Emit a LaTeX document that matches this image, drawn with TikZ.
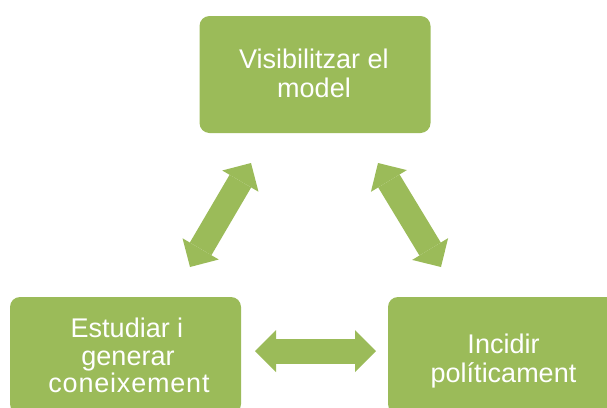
\documentclass[tikz,border=0pt]{standalone}
\usepackage{fontspec}
\setmainfont{Liberation Sans}
\usetikzlibrary{arrows.meta}
\definecolor{boxgreen}{RGB}{155,187,89}
\tikzset{
  box/.style={fill=boxgreen, draw=none, rounded corners=10pt, minimum width=231pt, minimum height=117pt, inner sep=0pt},
  lbl/.style={text=white, anchor=base, inner sep=0pt, font=\fontsize{27}{29}\selectfont},
  blockarrow/.style={draw=boxgreen, line width=25pt,
    {Triangle[width=42pt,length=21pt,line width=0pt]}-{Triangle[width=42pt,length=21pt,line width=0pt]}}
}
\begin{document}
\begin{tikzpicture}[x=1pt,y=-1pt]
\useasboundingbox (0,0) rectangle (607,407);
\clip (0,0) rectangle (607,407);
\node[box] (top) at (315,74.5) {};
\node[box] (left) at (125.5,355.5) {};
\node[box] (right) at (503.5,355.5) {};
\node[lbl] (top1) at (314,68) {Visibilitzar el};
\node[lbl] (top2) at (314,97) {model};
\node[lbl] (left1) at (127,337) {Estudiar i};
\node[lbl] (left2) at (128,365) {generar};
\node[lbl] (left3) at (129,392.5) {\addfontfeature{LetterSpace=3}coneixement};
\node[lbl] (right1) at (503.5,353) {Incidir};
\node[lbl] (right2) at (503.5,382) {políticament};
\coordinate (a1s) at (190,267);
\coordinate (a1e) at (251,163);
\coordinate (a2s) at (378,163);
\coordinate (a2e) at (441,267);
\coordinate (a3s) at (255,351);
\coordinate (a3e) at (376,351);
\draw[blockarrow] (a1s) -- (a1e);
\draw[blockarrow] (a2s) -- (a2e);
\draw[blockarrow] (a3s) -- (a3e);
\end{tikzpicture}
\end{document}
